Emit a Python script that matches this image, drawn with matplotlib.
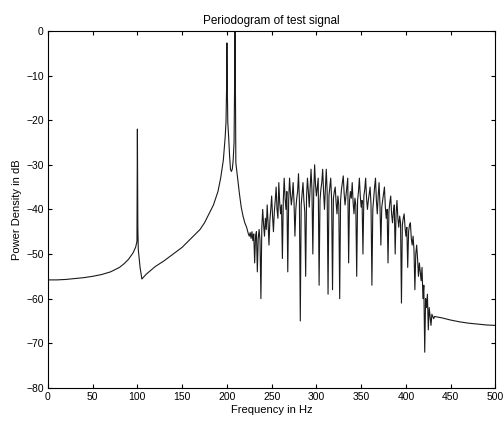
import numpy as np
import matplotlib
matplotlib.use("Agg")
import matplotlib.pyplot as plt

plt.rcParams['font.family'] = ['Liberation Sans', 'DejaVu Sans']

# smooth part of the spectrum
freq_low = [0, 10, 20, 30, 40, 50, 60, 70, 80, 85, 90, 95, 98, 99.5,
            100, 100.5, 101, 103, 105, 110, 120, 130, 140, 150, 160, 170,
            175, 180, 185, 190, 193, 196, 198, 199, 199.7, 200, 200.4, 201,
            202, 203, 204, 205, 206, 207, 208, 208.6, 209, 209.5, 210, 212,
            214, 216, 218, 220, 221]
db_low = [-55.8, -55.8, -55.7, -55.5, -55.3, -55.0, -54.6, -54.0, -53.0,
          -52.2, -51.2, -49.8, -48.5, -47.2,
          -22.0, -44.0, -49.0, -53.0, -55.6, -54.5, -52.8, -51.5, -50.0,
          -48.5, -46.5, -44.5, -43.0, -41.0, -39.0, -36.0, -33.0, -29.0,
          -24.0, -20.5, -12.0, -2.7, -12.0, -20.5, -24.0, -28.0, -31.0,
          -31.5, -31.0, -29.0, -25.0, -12.0, 0.0, -12.0, -29.6, -33.0,
          -36.5, -39.5, -41.5, -43.0, -43.5]

# broadband noise part, 1 Hz steps from 222 Hz to 432 Hz
freq_band = np.arange(222, 433)
db_band = [
    -44.0, -44.8, -45.5, -46.0, -45.2, -46.5, -45.0, -47.0, -45.5, -52.0,
    -46.0, -45.0, -54.0, -46.5, -44.5, -47.0, -60.0, -44.0, -40.0, -43.5,
    -46.0, -42.0, -44.5, -39.0, -43.0, -48.0, -42.5, -40.0, -37.0, -41.5,
    -45.0, -40.5, -38.0, -35.0, -40.0, -42.0, -34.0, -38.5, -41.0, -39.0,
    -51.0, -38.0, -33.0, -37.5, -40.0, -36.0, -54.0, -38.0, -33.0, -36.5,
    -39.0, -37.0, -34.0, -38.5, -46.0, -40.0, -37.5, -36.0, -32.0, -38.0,
    -65.0, -39.0, -36.5, -34.0, -38.0, -40.5, -55.0, -37.0, -33.0, -36.0,
    -39.5, -35.0, -31.0, -35.5, -50.0, -36.0, -30.0, -34.5, -37.0, -35.0,
    -33.0, -57.0, -38.0, -35.5, -34.0, -31.0, -36.0, -40.0, -35.5, -31.0,
    -36.0, -59.0, -37.0, -35.0, -33.0, -38.0, -58.0, -37.5, -36.0, -35.0,
    -38.5, -41.0, -37.0, -39.0, -60.0, -38.0, -35.5, -34.0, -32.5, -36.5,
    -39.0, -37.0, -35.0, -33.0, -52.0, -38.0, -36.0, -37.5, -34.0, -38.5,
    -41.0, -37.5, -39.0, -55.0, -38.0, -36.0, -33.0, -37.0, -39.5, -38.0,
    -50.0, -37.0, -35.5, -33.0, -37.5, -40.0, -38.0, -36.5, -35.0, -39.0,
    -57.0, -40.0, -37.5, -35.0, -33.0, -38.0, -41.0, -37.0, -34.0, -39.0,
    -48.0, -39.5, -38.0, -36.5, -35.0, -39.5, -42.0, -40.0, -52.0, -40.5,
    -38.5, -37.0, -41.0, -43.0, -40.5, -39.0, -50.0, -41.0, -38.0, -42.0,
    -44.0, -41.5, -43.0, -61.0, -43.5, -42.0, -41.0, -44.0, -46.0, -44.0,
    -53.0, -45.0, -43.5, -43.0, -46.5, -48.0, -46.0, -49.0, -58.0, -50.0,
    -48.0, -51.0, -55.0, -52.0, -54.0, -56.0, -53.0, -60.0, -57.0, -72.0,
    -60.0, -62.0, -59.0, -67.0, -62.0, -64.0, -66.0, -63.5, -64.0, -64.5,
    -64.0]

# flat tail
freq_high = [440, 450, 460, 470, 480, 490, 500]
db_high = [-64.3, -64.8, -65.2, -65.5, -65.7, -65.9, -66.0]

freq = np.concatenate([freq_low, freq_band, freq_high])
db = np.concatenate([db_low, db_band, db_high])

fig = plt.figure(figsize=(5.04, 4.23), dpi=100)
ax = fig.add_axes([0.095, 0.083, 0.888, 0.844])

ax.plot(freq, db, color='#1a1a1a', linewidth=0.8)

ax.set_xlim(0, 500)
ax.set_ylim(-80, 0)
ax.set_xticks(np.arange(0, 501, 50))
ax.set_yticks(np.arange(-80, 1, 10))
ax.tick_params(direction='in', top=True, right=True, length=3,
               labelsize=7.5, pad=3)
for s in ax.spines.values():
    s.set_linewidth(0.8)

ax.set_title("Periodogram of test signal", fontsize=8.5, pad=5)
ax.set_xlabel("Frequency in Hz", fontsize=8, labelpad=2)
ax.set_ylabel("Power Density in dB", fontsize=8, labelpad=3)

fig.savefig("out.png", dpi=100)
